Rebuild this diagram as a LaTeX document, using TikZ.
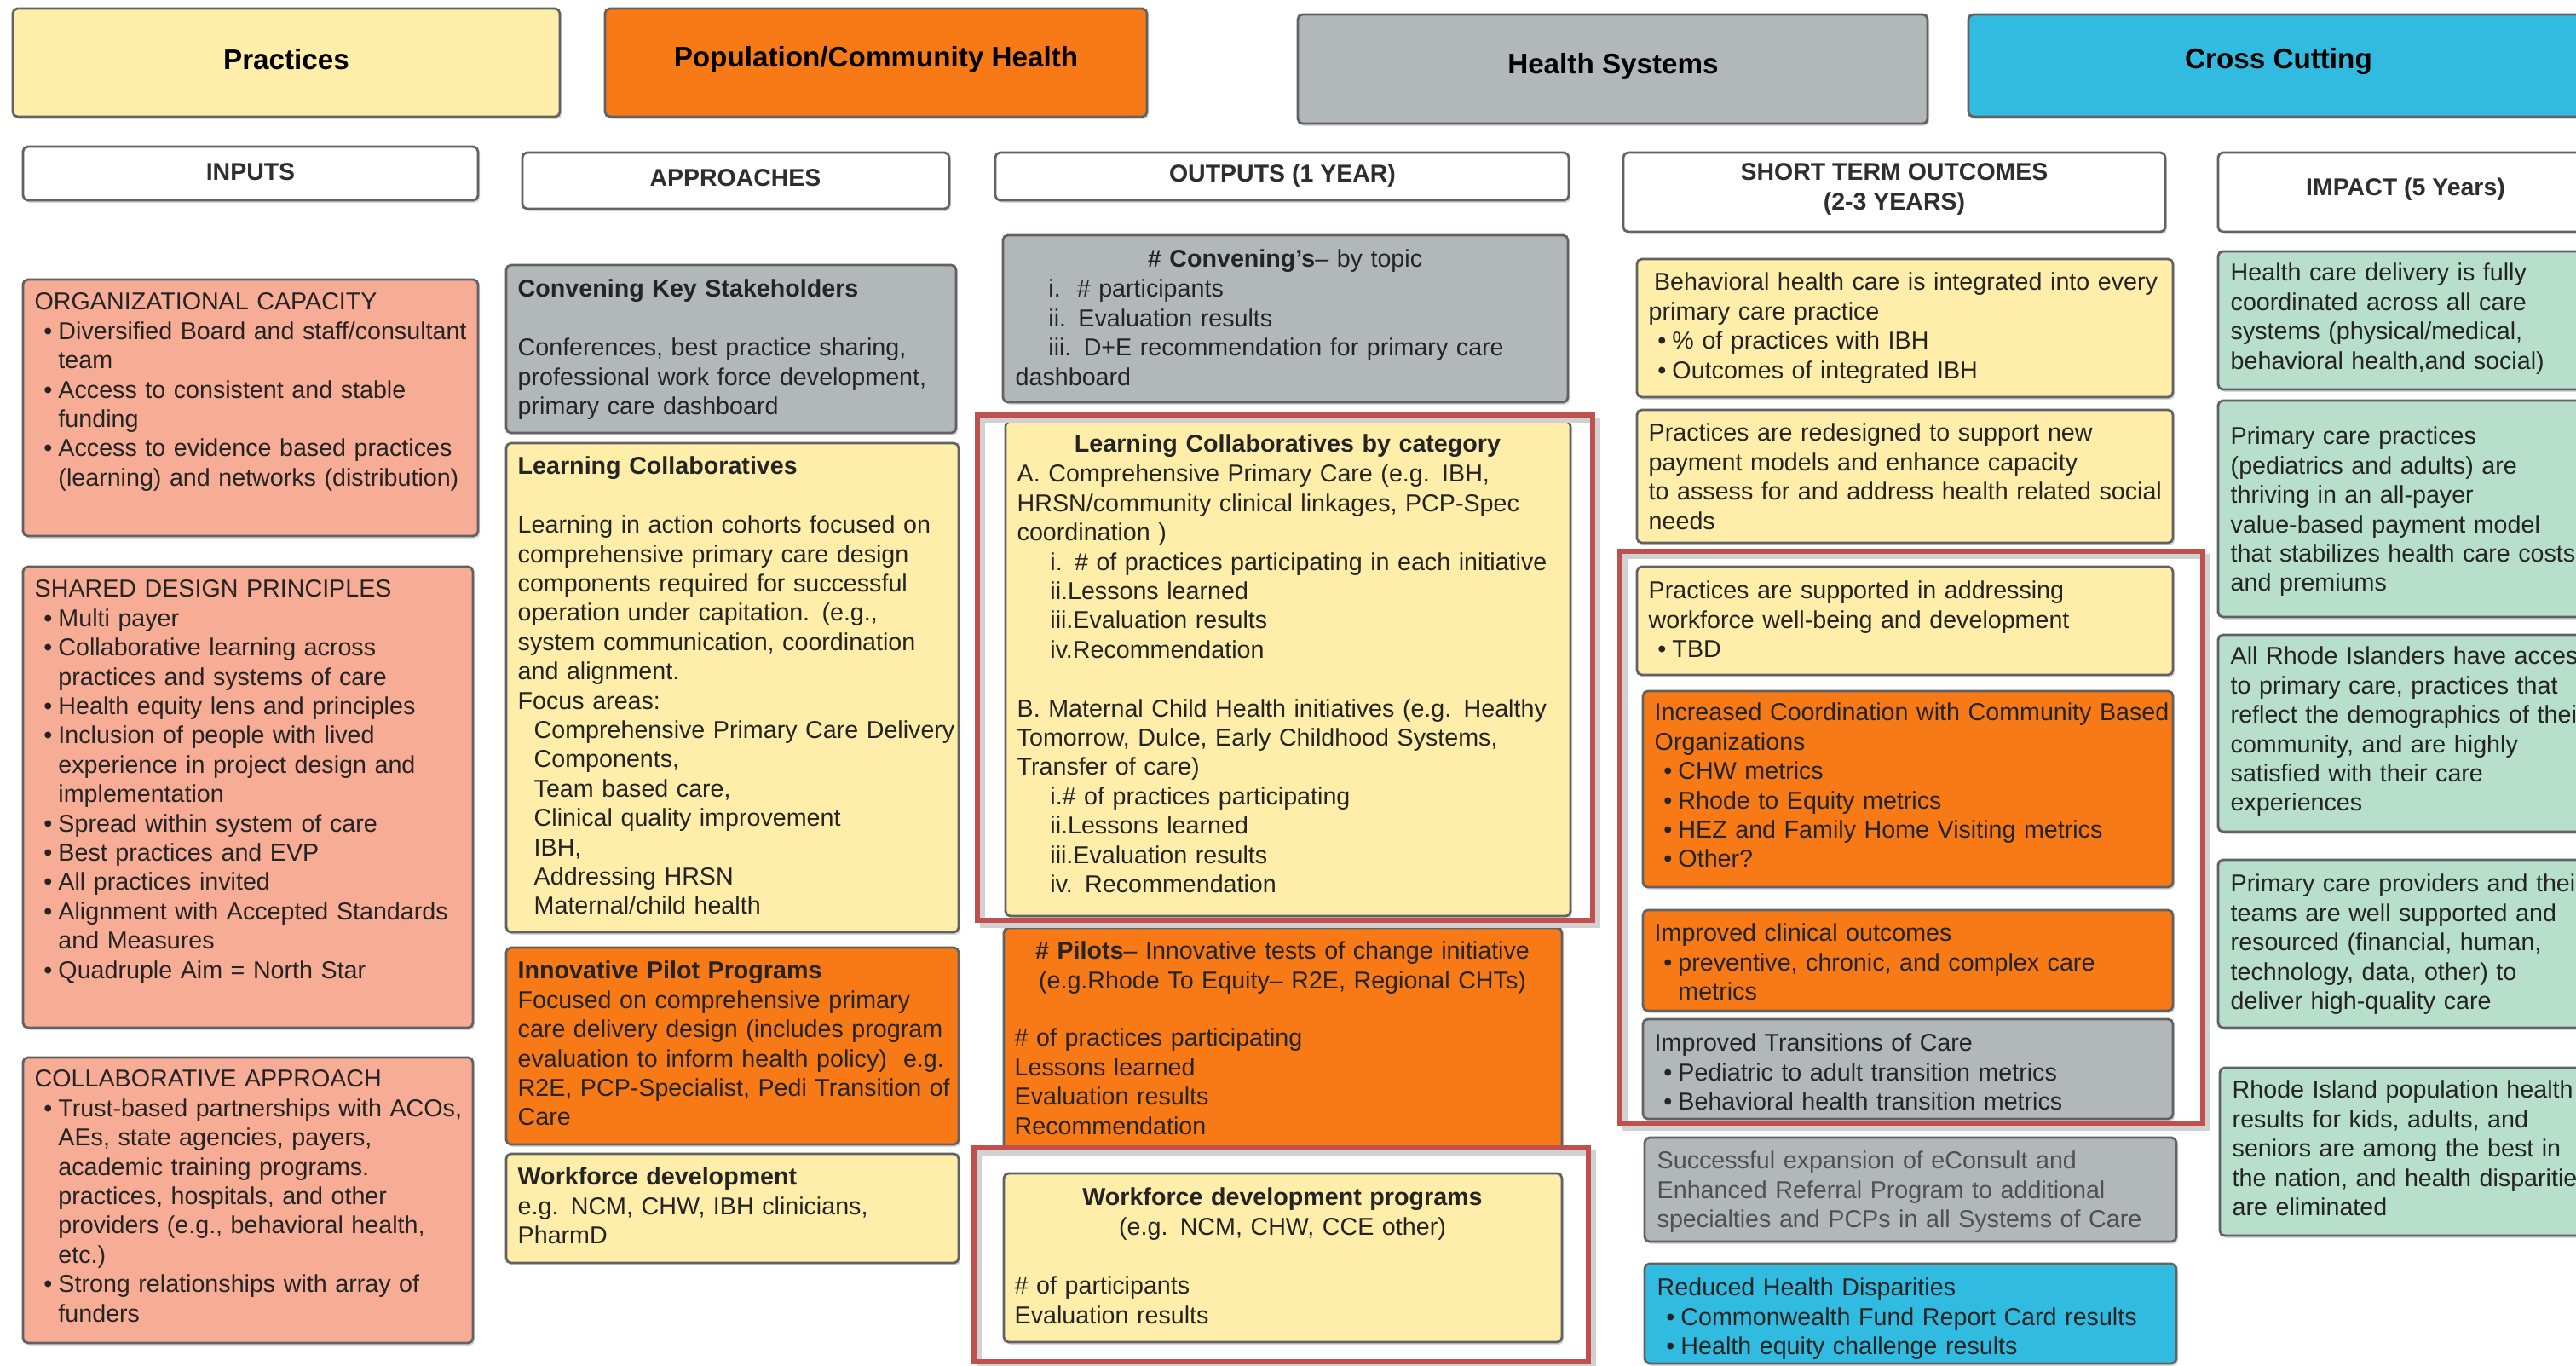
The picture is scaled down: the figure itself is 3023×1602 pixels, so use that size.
\documentclass[tikz,border=0pt]{standalone}
\usepackage{fontspec}
\setmainfont{Liberation Sans}
\usetikzlibrary{fit,shadows}

\definecolor{yelfill}{HTML}{FFEEA9}
\definecolor{orgfill}{HTML}{F77A17}
\definecolor{grayfill}{HTML}{B2B8BA}
\definecolor{bluefill}{HTML}{32BBE0}
\definecolor{salmonfill}{HTML}{F7AC95}
\definecolor{greenfill}{HTML}{B8DFCC}
\definecolor{framered}{HTML}{C0504D}
\definecolor{edgegray}{HTML}{626262}
\definecolor{inkdark}{HTML}{242424}
\definecolor{inkgray}{HTML}{505050}

\newcommand{\bodyfont}{\fontsize{8.15}{9.78}\selectfont}
\newcommand{\bitem}{\makebox[7.9pt][l]{\hspace{3pt}\textbullet}}
\newcommand{\bcont}{\hspace*{7.9pt}}
\newcommand{\rind}{\hspace*{11pt}}
\newcommand{\find}{\hspace*{5.4pt}}

\tikzset{
  panel/.style={draw=edgegray, line width=0.8pt, rounded corners=1.6pt, inner sep=0pt,
    drop shadow={shadow xshift=0.6pt, shadow yshift=-0.8pt, opacity=0.3}},
  colhead/.style={panel, fill=white},
  redframe/.style={draw=framered, line width=1.5pt, inner sep=0pt},
  frameshade/.style={draw=black!18, line width=1.6pt},
  headtxt/.style={font=\fontsize{9.45}{11.4}\selectfont\bfseries, text=black, inner sep=0pt},
  coltxt/.style={font=\fontsize{8.1}{9.78}\selectfont\bfseries, text=black!82, align=center, inner sep=0pt},
  body/.style={anchor=north west, inner sep=0pt, text width=9cm, align=left, font=\bodyfont,
    text=inkdark, yshift=-0.6pt, execute at begin node=\strut},
  title/.style={body, anchor=north, text width=6.4cm, align=center},
}

\begin{document}
\begin{tikzpicture}[x=0.01cm, y=-0.01cm]
\useasboundingbox (0,0) rectangle (3023,1602);
\fill[white] (0,0) rectangle (3023,1602);

\node[panel, fill=yelfill, fit={(15,10) (657,137)}] (practices) {};
\node[panel, fill=orgfill, fit={(710,10) (1346,137)}] (population) {};
\node[panel, fill=grayfill, fit={(1523,17) (2262,145)}] (systems) {};
\node[panel, fill=bluefill, fit={(2310,17) (3060,137)}] (crosscut) {};
\node[headtxt] (practicesT) at (336,70) {Practices};
\node[headtxt] (populationT) at (1028,70) {Population/Community Health};
\node[headtxt] (systemsT) at (1893,78) {Health Systems};
\node[headtxt] (crosscutT) at (2674,72) {Cross Cutting};

\node[colhead, fit={(27,172) (561,235)}] (inputs) {};
\node[colhead, fit={(613,179) (1114,245)}] (approaches) {};
\node[colhead, fit={(1168,179) (1841,235)}] (outputs) {};
\node[colhead, fit={(1905,179) (2541,272)}] (shortterm) {};
\node[colhead, fit={(2603,179) (3060,272)}] (impact) {};
\node[coltxt] (inputsT) at (294,202) {INPUTS};
\node[coltxt] (approachesT) at (863,209) {APPROACHES};
\node[coltxt] (outputsT) at (1505,206) {OUTPUTS (1 YEAR)};
\node[coltxt] (shorttermT) at (2223,222) {SHORT TERM OUTCOMES\\(2-3 YEARS)};
\node[coltxt] (impactT) at (2823,222) {IMPACT (5 Years)};

\node[panel, fill=salmonfill, fit={(27,328) (561,629)}] (orgcap) {};
\node[body] (orgcapT) at (40,337) {ORGANIZATIONAL CAPACITY\\
\bitem Diversified Board and staff/consultant\\
\bcont team\\
\bitem Access to consistent and stable\\
\bcont funding\\
\bitem Access to evidence based practices\\
\bcont (learning) and networks (distribution)};

\node[panel, fill=salmonfill, fit={(27,665) (555,1206)}] (shared) {};
\node[body] (sharedT) at (40,674) {SHARED DESIGN PRINCIPLES\\
\bitem Multi payer\\
\bitem Collaborative learning across\\
\bcont practices and systems of care\\
\bitem Health equity lens and principles\\
\bitem Inclusion of people with lived\\
\bcont experience in project design and\\
\bcont implementation\\
\bitem Spread within system of care\\
\bitem Best practices and EVP\\
\bitem All practices invited\\
\bitem Alignment with Accepted Standards\\
\bcont and Measures\\
\bitem Quadruple Aim = North Star};

\node[panel, fill=salmonfill, fit={(27,1241) (555,1576)}] (collab) {};
\node[body] (collabT) at (40,1249) {COLLABORATIVE APPROACH\\
\bitem Trust-based partnerships with ACOs,\\
\bcont AEs, state agencies, payers,\\
\bcont academic training programs.\\
\bcont practices, hospitals, and other\\
\bcont providers (e.g., behavioral health,\\
\bcont etc.)\\
\bitem Strong relationships with array of\\
\bcont funders};

\node[panel, fill=grayfill, fit={(594,311) (1122,508)}] (convene) {};
\node[body] (conveneT) at (607,322) {\textbf{Convening Key Stakeholders}\\[9.78pt]
Conferences, best practice sharing,\\
professional work force development,\\
primary care dashboard};

\node[panel, fill=yelfill, fit={(594,520) (1125,1094)}] (learn) {};
\node[body] (learnT) at (607,530) {\textbf{Learning Collaboratives}\\[9.78pt]
Learning in action cohorts focused on\\
comprehensive primary care design\\
components required for successful\\
operation under capitation. (e.g.,\\
system communication, coordination\\
and alignment.\\
Focus areas:\\
\find Comprehensive Primary Care Delivery\\
\find Components,\\
\find Team based care,\\
\find Clinical quality improvement\\
\find IBH,\\
\find Addressing HRSN\\
\find Maternal/child health};

\node[panel, fill=orgfill, fit={(594,1112) (1125,1343)}] (pilotprog) {};
\node[body] (pilotprogT) at (607,1122) {\textbf{Innovative Pilot Programs}\\
Focused on comprehensive primary\\
care delivery design (includes program\\
evaluation to inform health policy)\ \ e.g.\\
R2E, PCP-Specialist, Pedi Transition of\\
Care};

\node[panel, fill=yelfill, fit={(594,1354) (1125,1482)}] (workforce) {};
\node[body] (workforceT) at (607,1364) {\textbf{Workforce development}\\
e.g. NCM, CHW, IBH clinicians,\\
PharmD};

\node[panel, fill=grayfill, fit={(1177,276) (1840,472)}] (convout) {};
\node[title] (convoutH) at (1508,287) {\textbf{\# Convening’s}– by topic};
\node[body] (convoutT) at (1191,322) {\rind i.\ \ \# participants\\
\rind ii. Evaluation results\\
\rind iii. D+E recommendation for primary care\\
dashboard};

\node[panel, fill=yelfill, fit={(1180,494) (1843,1075)}] (learnout) {};
\node[title] (learnoutH) at (1511,504) {\textbf{Learning Collaboratives by category}};
\node[body] (learnoutT) at (1193,539) {A. Comprehensive Primary Care (e.g. IBH,\\
HRSN/community clinical linkages, PCP-Spec\\
coordination )\\
\rind i. \# of practices participating in each initiative\\
\rind ii.Lessons learned\\
\rind iii.Evaluation results\\
\rind iv.Recommendation\\[9.78pt]
B. Maternal Child Health initiatives (e.g. Healthy\\
Tomorrow, Dulce, Early Childhood Systems,\\
Transfer of care)\\
\rind i.\# of practices participating\\
\rind ii.Lessons learned\\
\rind iii.Evaluation results\\
\rind iv. Recommendation};

\node[panel, fill=orgfill, fit={(1178,1089) (1833,1353)}] (pilotout) {};
\node[title] (pilotoutH) at (1505,1099) {\textbf{\# Pilots}– Innovative tests of change initiative\\
(e.g.Rhode To Equity– R2E, Regional CHTs)};
\node[body] (pilotoutT) at (1190,1201) {\# of practices participating\\
Lessons learned\\
Evaluation results\\
Recommendation};

\node[panel, fill=yelfill, fit={(1178,1377) (1833,1575)}] (wfout) {};
\node[title] (wfoutH) at (1505,1388) {\textbf{Workforce development programs}\\
(e.g. NCM, CHW, CCE other)};
\node[body] (wfoutT) at (1190,1492) {\# of participants\\
Evaluation results};

\node[panel, fill=yelfill, fit={(1921,304) (2550,466)}] (bhint) {};
\node[body] (bhintT) at (1934,314) {\hspace*{1.8pt}Behavioral health care is integrated into every\\
primary care practice\\
\bitem \% of practices with IBH\\
\bitem Outcomes of integrated IBH};

\node[panel, fill=yelfill, fit={(1921,481) (2550,637)}] (redesign) {};
\node[body] (redesignT) at (1934,491) {Practices are redesigned to support new\\
payment models and enhance capacity\\
to assess for and address health related social\\
needs};

\node[panel, fill=yelfill, fit={(1921,665) (2550,792)}] (wellbeing) {};
\node[body] (wellbeingT) at (1934,676) {Practices are supported in addressing\\
workforce well-being and development\\
\bitem TBD};

\node[panel, fill=orgfill, fit={(1928,811) (2550,1041)}] (cbocoord) {};
\node[body] (cbocoordT) at (1941,819) {Increased Coordination with Community Based\\
Organizations\\
\bitem CHW metrics\\
\bitem Rhode to Equity metrics\\
\bitem HEZ and Family Home Visiting metrics\\
\bitem Other?};

\node[panel, fill=orgfill, fit={(1928,1068) (2550,1186)}] (clinical) {};
\node[body] (clinicalT) at (1941,1078) {Improved clinical outcomes\\
\bitem preventive, chronic, and complex care\\
\bcont metrics};

\node[panel, fill=grayfill, fit={(1928,1196) (2550,1313)}] (transit) {};
\node[body] (transitT) at (1941,1207) {Improved Transitions of Care\\
\bitem Pediatric to adult transition metrics\\
\bitem Behavioral health transition metrics};

\node[panel, fill=grayfill, fit={(1930,1335) (2554,1457)}] (econsult) {};
\node[body, text=inkgray] (econsultT) at (1944,1345) {Successful expansion of eConsult and\\
Enhanced Referral Program to additional\\
specialties and PCPs in all Systems of Care};

\node[panel, fill=bluefill, fit={(1930,1483) (2554,1600)}] (dispar) {};
\node[body] (disparT) at (1944,1494) {Reduced Health Disparities\\
\bitem Commonwealth Fund Report Card results\\
\bitem Health equity challenge results};

\node[panel, fill=greenfill, fit={(2603,295) (3060,457)}] (coordall) {};
\node[body] (coordallT) at (2617,303) {Health care delivery is fully\\
coordinated across all care\\
systems (physical/medical,\\
behavioral health,and social)};

\node[panel, fill=greenfill, fit={(2603,470) (3060,724)}] (thriving) {};
\node[body] (thrivingT) at (2617,495) {Primary care practices\\
(pediatrics and adults) are\\
thriving in an all-payer\\
value-based payment model\\
that stabilizes health care costs\\
and premiums};

\node[panel, fill=greenfill, fit={(2603,745) (3060,976)}] (access) {};
\node[body] (accessT) at (2617,753) {All Rhode Islanders have access\\
to primary care, practices that\\
reflect the demographics of their\\
community, and are highly\\
satisfied with their care\\
experiences};

\node[panel, fill=greenfill, fit={(2603,1009) (3060,1206)}] (supported) {};
\node[body] (supportedT) at (2617,1020) {Primary care providers and their\\
teams are well supported and\\
resourced (financial, human,\\
technology, data, other) to\\
deliver high-quality care};

\node[panel, fill=greenfill, fit={(2605,1253) (3060,1450)}] (popresult) {};
\node[body] (popresultT) at (2619,1262) {Rhode Island population health\\
results for kids, adults, and\\
seniors are among the best in\\
the nation, and health disparities\\
are eliminated};

\draw[frameshade] (1153,493) rectangle (1875,1086);
\draw[frameshade] (1149,1353) rectangle (1870,1604);
\draw[frameshade] (1907,653) rectangle (2591,1324);
\node[redframe, fit={(1147,487) (1869,1080)}] (frameA) {};
\node[redframe, fit={(1143,1347) (1864,1598)}] (frameB) {};
\node[redframe, fit={(1901,647) (2585,1318)}] (frameC) {};
\end{tikzpicture}
\end{document}
